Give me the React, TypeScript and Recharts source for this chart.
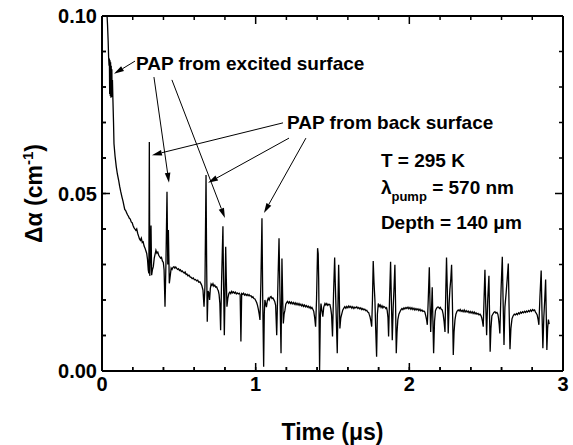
import React from "react";
import {
  LineChart, Line, XAxis, YAxis, ReferenceLine, ReferenceDot, Label
} from "recharts";

// trace: [time (us), delta alpha (cm^-1)]
const earlyTrace: number[][] = [
  [0.033, 0.1], [0.036, 0.0975], [0.04, 0.093], [0.043, 0.0885], [0.046, 0.086], [0.048, 0.088],
  [0.05, 0.078], [0.052, 0.0875], [0.054, 0.0775], [0.056, 0.087], [0.058, 0.077], [0.06, 0.086],
  [0.062, 0.0772], [0.064, 0.085], [0.066, 0.0775], [0.068, 0.082], [0.071, 0.0765], [0.075, 0.07],
  [0.078, 0.064], [0.085, 0.0605], [0.093, 0.0575], [0.1, 0.0555], [0.108, 0.0538], [0.115, 0.052],
  [0.122, 0.0505], [0.13, 0.049], [0.137, 0.0478], [0.143, 0.0465], [0.148, 0.0455], [0.154, 0.0452],
  [0.16, 0.0446], [0.166, 0.044], [0.172, 0.0436], [0.178, 0.043], [0.184, 0.0428], [0.19, 0.042],
  [0.196, 0.0418], [0.202, 0.041], [0.208, 0.0404], [0.214, 0.04], [0.22, 0.0396], [0.226, 0.04],
  [0.232, 0.0388], [0.238, 0.038], [0.244, 0.0372], [0.25, 0.0368], [0.256, 0.0374], [0.262, 0.0362],
  [0.268, 0.0364], [0.274, 0.0352], [0.28, 0.0346], [0.286, 0.0338], [0.291, 0.0331], [0.296, 0.0315],
  [0.301, 0.0285],
];

const midTrace: number[][] = [
  [0.305, 0.0275], [0.308, 0.0645], [0.311, 0.0268], [0.315, 0.033], [0.319, 0.041], [0.323, 0.027],
  [0.328, 0.0285], [0.334, 0.0294], [0.34, 0.0318], [0.346, 0.033], [0.351, 0.034], [0.357, 0.0332],
  [0.363, 0.0335], [0.369, 0.0326], [0.375, 0.0322], [0.381, 0.0318], [0.387, 0.032], [0.393, 0.031],
  [0.399, 0.0306], [0.404, 0.0285], [0.41, 0.0181], [0.416, 0.03], [0.423, 0.0505], [0.428, 0.03],
  [0.432, 0.0397], [0.438, 0.0247], [0.444, 0.0268], [0.45, 0.029], [0.456, 0.0286], [0.462, 0.0292],
  [0.468, 0.0294], [0.474, 0.029], [0.48, 0.0293], [0.486, 0.0289], [0.492, 0.0286], [0.498, 0.0288],
  [0.504, 0.0283], [0.51, 0.0285], [0.516, 0.028], [0.522, 0.0282], [0.529, 0.0278], [0.535, 0.0276],
  [0.541, 0.0279], [0.547, 0.0272], [0.553, 0.0273], [0.559, 0.0268], [0.566, 0.027], [0.573, 0.0265],
  [0.58, 0.0264], [0.587, 0.026], [0.594, 0.0262], [0.601, 0.0257], [0.608, 0.0258], [0.616, 0.0254],
  [0.623, 0.0256], [0.63, 0.025], [0.637, 0.0251], [0.644, 0.0246], [0.65, 0.024], [0.657, 0.0228],
  [0.664, 0.0181], [0.67, 0.024], [0.677, 0.0552], [0.681, 0.03], [0.685, 0.0139], [0.69, 0.0225],
  [0.696, 0.0219], [0.7, 0.02], [0.705, 0.0232], [0.71, 0.0245], [0.716, 0.0241], [0.722, 0.0246],
  [0.728, 0.0239], [0.734, 0.0242], [0.74, 0.0236], [0.746, 0.0237], [0.752, 0.023], [0.757, 0.0226],
  [0.762, 0.0215], [0.767, 0.019], [0.772, 0.0115], [0.778, 0.025], [0.787, 0.0408], [0.791, 0.025],
  [0.796, 0.0101], [0.801, 0.023], [0.805, 0.035], [0.809, 0.026], [0.813, 0.0181], [0.819, 0.0205],
  [0.826, 0.0219], [0.832, 0.0222], [0.838, 0.0218], [0.844, 0.0224], [0.85, 0.022], [0.856, 0.0223],
  [0.862, 0.0219], [0.868, 0.0222], [0.874, 0.0217], [0.88, 0.022], [0.887, 0.0217], [0.893, 0.0219],
  [0.899, 0.0215], [0.904, 0.0083], [0.909, 0.0218], [0.915, 0.0216], [0.921, 0.0219], [0.927, 0.0214],
  [0.933, 0.0217], [0.939, 0.0213], [0.945, 0.0216], [0.951, 0.0212], [0.957, 0.0215], [0.963, 0.0211],
  [0.97, 0.0212], [0.976, 0.0207], [0.982, 0.0209], [0.988, 0.0204], [0.995, 0.0203], [1.001, 0.0198],
  [1.007, 0.0192], [1.012, 0.0185], [1.017, 0.0175], [1.023, 0.016], [1.028, 0.0144], [1.034, 0.025],
  [1.041, 0.043], [1.046, 0.02], [1.052, 0.0012], [1.056, 0.016], [1.06, 0.02], [1.065, 0.019],
  [1.07, 0.018], [1.076, 0.0198], [1.082, 0.0205], [1.088, 0.02], [1.094, 0.0208], [1.1, 0.021],
  [1.106, 0.0204], [1.112, 0.0206], [1.118, 0.0201], [1.124, 0.0196], [1.13, 0.0185], [1.137, 0.0101],
  [1.145, 0.025], [1.152, 0.0374], [1.158, 0.0216], [1.165, 0.005], [1.171, 0.0317], [1.176, 0.02],
  [1.18, 0.0134], [1.185, 0.016], [1.19, 0.017], [1.196, 0.0188], [1.202, 0.0193], [1.208, 0.0196],
  [1.214, 0.0191], [1.22, 0.0195], [1.226, 0.019], [1.232, 0.0194], [1.238, 0.0189], [1.245, 0.0193],
  [1.251, 0.0188], [1.257, 0.0192], [1.263, 0.0187], [1.269, 0.0191], [1.276, 0.0186], [1.282, 0.019],
  [1.288, 0.0185], [1.294, 0.0188], [1.3, 0.0183], [1.306, 0.0187], [1.312, 0.0182], [1.318, 0.0186],
  [1.324, 0.0181], [1.33, 0.0184], [1.336, 0.018], [1.342, 0.0183], [1.348, 0.0178], [1.354, 0.0181],
  [1.36, 0.0176], [1.366, 0.0179], [1.372, 0.0174], [1.378, 0.0168], [1.384, 0.015], [1.39, 0.0125],
  [1.396, 0.02], [1.403, 0.0346], [1.407, 0.033], [1.41, 0.026], [1.416, 0.0003], [1.421, 0.016],
  [1.425, 0.019], [1.431, 0.017], [1.437, 0.0153], [1.443, 0.018], [1.451, 0.019],
];

const lateTrace: number[][] = [
  [1.457, 0.0186], [1.463, 0.019], [1.469, 0.0185], [1.476, 0.0188], [1.483, 0.0187], [1.489, 0.0175],
  [1.494, 0.0158], [1.5, 0.0097], [1.507, 0.022], [1.514, 0.032], [1.518, 0.025], [1.522, 0.019],
  [1.531, 0.005], [1.536, 0.02], [1.54, 0.0299], [1.544, 0.022], [1.548, 0.012], [1.554, 0.015],
  [1.56, 0.016], [1.567, 0.0172], [1.574, 0.0177], [1.58, 0.0181], [1.587, 0.0177], [1.593, 0.0182],
  [1.6, 0.0178], [1.606, 0.0183], [1.613, 0.0179], [1.619, 0.0182], [1.626, 0.0177], [1.632, 0.0181],
  [1.639, 0.0176], [1.645, 0.018], [1.652, 0.0178], [1.658, 0.0181], [1.665, 0.0176], [1.671, 0.0179],
  [1.678, 0.0175], [1.684, 0.0178], [1.691, 0.0173], [1.697, 0.0176], [1.704, 0.0172], [1.71, 0.0174],
  [1.717, 0.017], [1.723, 0.0171], [1.729, 0.0166], [1.735, 0.0165], [1.74, 0.0158], [1.744, 0.0153],
  [1.75, 0.014], [1.755, 0.0125], [1.76, 0.02], [1.765, 0.031], [1.77, 0.025], [1.776, 0.02],
  [1.781, 0.012], [1.787, 0.004], [1.792, 0.016], [1.798, 0.019], [1.804, 0.0182], [1.81, 0.0186],
  [1.816, 0.0179], [1.822, 0.0184], [1.828, 0.0178], [1.834, 0.0182], [1.841, 0.018], [1.847, 0.0176],
  [1.852, 0.0178], [1.856, 0.017], [1.861, 0.015], [1.865, 0.0097], [1.871, 0.02], [1.878, 0.0308],
  [1.883, 0.02], [1.889, 0.0087], [1.895, 0.018], [1.901, 0.024], [1.906, 0.0299], [1.91, 0.02],
  [1.915, 0.005], [1.92, 0.011], [1.925, 0.0144], [1.932, 0.016], [1.939, 0.0167], [1.945, 0.0172],
  [1.952, 0.0176], [1.958, 0.0173], [1.965, 0.0178], [1.971, 0.0175], [1.978, 0.0179], [1.984, 0.0176],
  [1.991, 0.018], [1.997, 0.0175], [2.004, 0.0179], [2.01, 0.0174], [2.017, 0.0178], [2.023, 0.0173],
  [2.03, 0.0177], [2.036, 0.0172], [2.043, 0.0176], [2.049, 0.0172], [2.056, 0.0175], [2.062, 0.017],
  [2.069, 0.0174], [2.075, 0.0169], [2.082, 0.0172], [2.088, 0.0168], [2.095, 0.0169], [2.101, 0.0166],
  [2.107, 0.0155], [2.112, 0.0145], [2.117, 0.013], [2.123, 0.02], [2.13, 0.0292], [2.135, 0.018],
  [2.139, 0.011], [2.144, 0.017], [2.149, 0.0236], [2.153, 0.015], [2.158, 0.005], [2.164, 0.014],
  [2.17, 0.017], [2.176, 0.0176], [2.183, 0.018], [2.19, 0.018], [2.196, 0.0176], [2.202, 0.0179],
  [2.208, 0.0174], [2.214, 0.0172], [2.22, 0.016], [2.226, 0.014], [2.232, 0.011], [2.237, 0.022],
  [2.242, 0.032], [2.247, 0.023], [2.253, 0.0106], [2.259, 0.019], [2.264, 0.023], [2.27, 0.026],
  [2.275, 0.0299], [2.28, 0.02], [2.286, 0.0045], [2.291, 0.011], [2.297, 0.0144], [2.303, 0.016],
  [2.31, 0.0168], [2.318, 0.0172], [2.324, 0.0169], [2.331, 0.0173], [2.337, 0.0168], [2.344, 0.0171],
  [2.35, 0.0167], [2.357, 0.0172], [2.363, 0.0166], [2.37, 0.017], [2.376, 0.0166], [2.383, 0.0169],
  [2.389, 0.0164], [2.396, 0.0168], [2.402, 0.0163], [2.409, 0.0167], [2.415, 0.0162], [2.422, 0.0166],
  [2.428, 0.0161], [2.434, 0.0164], [2.44, 0.016], [2.447, 0.0162], [2.453, 0.0158], [2.46, 0.016],
  [2.466, 0.0156], [2.471, 0.015], [2.476, 0.014], [2.481, 0.0125], [2.486, 0.02], [2.492, 0.0285],
  [2.497, 0.019], [2.503, 0.0101], [2.51, 0.02], [2.518, 0.0268], [2.522, 0.016], [2.526, 0.0054],
  [2.531, 0.012], [2.537, 0.0155], [2.543, 0.016], [2.55, 0.0165], [2.557, 0.0167], [2.563, 0.0163],
  [2.57, 0.0165], [2.576, 0.016], [2.58, 0.015], [2.585, 0.013], [2.589, 0.0106], [2.597, 0.023],
  [2.605, 0.0322], [2.61, 0.02], [2.616, 0.0073], [2.622, 0.018], [2.63, 0.022], [2.637, 0.026],
  [2.644, 0.0303], [2.649, 0.018], [2.655, 0.0061], [2.661, 0.012], [2.668, 0.0147], [2.675, 0.0155],
  [2.683, 0.016], [2.69, 0.0158], [2.698, 0.0162], [2.704, 0.0159], [2.711, 0.0164], [2.717, 0.0161],
  [2.724, 0.0166], [2.73, 0.0163], [2.737, 0.0167], [2.743, 0.0164], [2.75, 0.0168], [2.756, 0.0165],
  [2.763, 0.0169], [2.769, 0.0166], [2.776, 0.017], [2.782, 0.0167], [2.789, 0.0172], [2.795, 0.0168],
  [2.802, 0.0173], [2.808, 0.017], [2.815, 0.0172], [2.821, 0.0166], [2.827, 0.0162], [2.832, 0.0158],
  [2.838, 0.0145], [2.843, 0.013], [2.85, 0.021], [2.858, 0.0283], [2.863, 0.017], [2.869, 0.0064],
  [2.875, 0.015], [2.881, 0.02], [2.887, 0.0258], [2.891, 0.016], [2.895, 0.0059], [2.9, 0.012],
  [2.905, 0.0145], [2.91, 0.0132],
];

const xTicks = [0, 0.2, 0.4, 0.6, 0.8, 1, 1.2, 1.4, 1.6, 1.8, 2, 2.2, 2.4, 2.6, 2.8, 3];
const yTicks = [0, 0.01, 0.02, 0.03, 0.04, 0.05, 0.06, 0.07, 0.08, 0.09, 0.1];

// arrows: [fromT, fromA, toT, toA]
const arrows: number[][] = [
  [0.215, 0.0873, 0.078, 0.0837],
  [0.338, 0.0828, 0.436, 0.053],
  [0.455, 0.082, 0.8, 0.0431],
  [1.178, 0.0699, 0.325, 0.0608],
  [1.217, 0.0656, 0.69, 0.053],
  [1.327, 0.0656, 1.054, 0.0445],
];

const notes = [
  { t: 0.221, a: 0.0848, text: "PAP from excited surface" },
  { t: 1.204, a: 0.0682, text: "PAP from back surface" },
  { t: 1.815, a: 0.0575, text: "T = 295 K" },
  { t: 1.815, a: 0.05, text: "λ", sub: "pump", rest: " = 570 nm" },
  { t: 1.815, a: 0.04, text: "Depth = 140 μm" },
];

const trace = [...earlyTrace, ...midTrace, ...lateTrace].map(([t, a]) => ({ t, a }));

const FONT = "'Liberation Sans', Arial, Helvetica, sans-serif";
const M = 6;   // tick margin
const TS = 4;  // inward tick length drawn by the axes themselves

const isMajorX = (v: number) => Math.abs(v - Math.round(v)) < 1e-6;
const isMajorY = (v: number) => Math.abs(v * 20 - Math.round(v * 20)) < 1e-6;

// inward tick marks on all four sides as short segments, kept a hair inside the frame
const tickSegs: { x: number; y: number }[][] = [];
xTicks.forEach((t) => {
  const len = isMajorX(t) ? 0.00225 : 0.00113;
  const tx = Math.min(Math.max(t, 0.001), 2.999);
  tickSegs.push([{ x: tx, y: 0.00005 }, { x: tx, y: len }]);
  tickSegs.push([{ x: tx, y: 0.09995 }, { x: tx, y: 0.1 - len }]);
});
yTicks.forEach((v) => {
  const len = isMajorY(v) ? 0.052 : 0.026;
  const ty = Math.min(Math.max(v, 0.00005), 0.09995);
  tickSegs.push([{ x: 0.0005, y: ty }, { x: len, y: ty }]);
  tickSegs.push([{ x: 2.9995, y: ty }, { x: 3 - len, y: ty }]);
});

function BottomTick(props: any) {
  const { x, y, payload } = props;
  if (!isMajorX(payload.value)) return null;
  const axisY = y - M + TS;
  return (
    <text x={x} y={axisY + 20} textAnchor="middle" fontSize={20} fontWeight="bold" fontFamily={FONT} fill="#000">
      {Math.round(payload.value)}
    </text>
  );
}

function LeftTick(props: any) {
  const { x, y, payload } = props;
  if (!isMajorY(payload.value)) return null;
  const axisX = x + M - TS;
  return (
    <text x={axisX - 5} y={y + 7} textAnchor="end" fontSize={20} fontWeight="bold" fontFamily={FONT} fill="#000">
      {payload.value.toFixed(2)}
    </text>
  );
}

function TickMark(props: any) {
  const { x1, y1, x2, y2 } = props;
  if ([x1, y1, x2, y2].some((v) => typeof v !== "number")) return null;
  return (
    <g>
      <line x1={x1} y1={y1} x2={x2} y2={y2} stroke="#000" strokeWidth={1.5} />
    </g>
  );
}

function Arrow(props: any) {
  const { x1, y1, x2, y2 } = props;
  if ([x1, y1, x2, y2].some((v) => typeof v !== "number")) return null;
  const dx = x2 - x1;
  const dy = y2 - y1;
  const len = Math.sqrt(dx * dx + dy * dy);
  const ux = dx / len;
  const uy = dy / len;
  const hl = 10;
  const hw = 2.8;
  const bx = x2 - ux * hl;
  const by = y2 - uy * hl;
  const pts = `${x2},${y2} ${bx - uy * hw},${by + ux * hw} ${bx + uy * hw},${by - ux * hw}`;
  return (
    <g>
      <line x1={x1} y1={y1} x2={bx} y2={by} stroke="#000" strokeWidth={1} />
      <polygon points={pts} fill="#000" />
    </g>
  );
}

function NoteText(note: any) {
  return (props: any) => {
    const { cx, cy } = props;
    return (
      <text x={cx} y={cy} fontSize={19} fontWeight="bold" fontFamily={FONT} fill="#000">
        {note.text}
        {note.sub && <tspan dy={7} fontSize={13}>{note.sub}</tspan>}
        {note.rest && <tspan dy={-7}>{note.rest}</tspan>}
      </text>
    );
  };
}

function YTitle(props: any) {
  const { viewBox } = props;
  const cx = viewBox.x + 42;
  const cy = viewBox.y + viewBox.height / 2;
  return (
    <text transform={`translate(${cx},${cy}) rotate(-90)`} textAnchor="middle" fontSize={23} fontWeight="bold" fontFamily={FONT} fill="#000">
      Δα (cm<tspan dy={-9} fontSize={15}>-1</tspan><tspan dy={9}>)</tspan>
    </text>
  );
}

function XTitle(props: any) {
  const { viewBox } = props;
  const cx = viewBox.x + viewBox.width / 2;
  return (
    <text x={cx} y={viewBox.y + 69} textAnchor="middle" fontSize={23} fontWeight="bold" fontFamily={FONT} fill="#000">
      Time (μs)
    </text>
  );
}

export default function App() {
  return (
    <div style={{ position: "absolute", left: 0, top: 0, background: "#fff" }}>
      <LineChart width={573} height={445} data={trace} margin={{ top: 16, right: 10, bottom: 0, left: 0 }}>
        <XAxis
          dataKey="t" type="number" domain={[0, 3]} ticks={xTicks} interval={0}
          height={74} tickSize={-TS} tickMargin={M}
          tickLine={{ stroke: "#000", strokeWidth: 1.5 }}
          axisLine={{ stroke: "#000", strokeWidth: 2 }} tick={<BottomTick />}
        >
          <Label content={<XTitle />} />
        </XAxis>
        <YAxis
          type="number" domain={[0, 0.1]} ticks={yTicks} interval={0}
          width={102} tickSize={-TS} tickMargin={M}
          tickLine={{ stroke: "#000", strokeWidth: 1.5 }}
          axisLine={{ stroke: "#000", strokeWidth: 2 }} tick={<LeftTick />}
        >
          <Label content={<YTitle />} />
        </YAxis>
        <ReferenceLine y={0.1} stroke="#000" strokeWidth={2} />
        <ReferenceLine x={3} stroke="#000" strokeWidth={2} />
        <Line
          dataKey="a" type="linear" stroke="#000" strokeWidth={1.3} dot={false}
          isAnimationActive={false}
        />
        {tickSegs.map((s, i) => (
          <ReferenceLine
            key={"tk" + i} segment={s}
            shape={(p: any) => <TickMark {...p} />}
          />
        ))}
        {arrows.map((a, i) => (
          <ReferenceLine
            key={"ar" + i}
            segment={[{ x: a[0], y: a[1] }, { x: a[2], y: a[3] }]}
            shape={(p: any) => <Arrow {...p} />}
          />
        ))}
        {notes.map((n, i) => (
          <ReferenceDot key={"nt" + i} x={n.t} y={n.a} r={0} shape={NoteText(n)} />
        ))}
      </LineChart>
    </div>
  );
}
